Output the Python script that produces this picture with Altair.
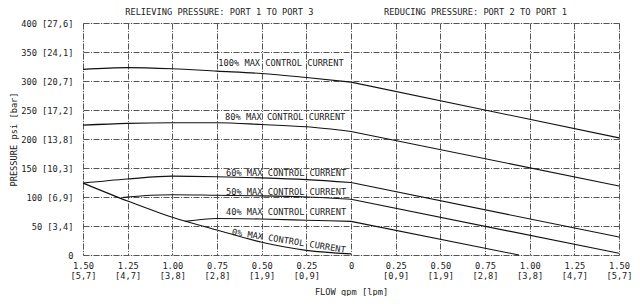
import json
import altair as alt
import pandas as pd

# ---- curve data (flow in gpm: negative = relieving side, positive = reducing side) ----
c100_left_x = [-1.5, -1.25, -1.0, -0.75, -0.5, -0.25, 0.0]
c100_left_y = [320, 323, 321, 317, 313, 306, 298]
c100_right_x = [0.0, 1.5]
c100_right_y = [298, 202]

c80_left_x = [-1.5, -1.25, -1.0, -0.75, -0.5, -0.25, 0.0]
c80_left_y = [224, 227, 228, 228, 225, 221, 213]
c80_right_x = [0.0, 1.5]
c80_right_y = [213, 119]

c60_left_x = [-1.5, -1.25, -1.0, -0.75, -0.5, -0.25, 0.0]
c60_left_y = [124, 131, 136, 135, 133, 130, 125]
c60_right_x = [0.0, 1.5]
c60_right_y = [125, 31]

c50_left_x = [-1.28, -1.25, -1.0, -0.75, -0.5, -0.25, 0.0]
c50_left_y = [99, 100, 104, 103, 102, 100, 96]
c50_right_x = [0.0, 1.5]
c50_right_y = [96, 3]

c40_left_x = [-0.93, -0.75, -0.5, -0.25, 0.0]
c40_left_y = [58, 63, 62, 60, 58]
c40_right_x = [0.0, 0.94]
c40_right_y = [58, 0]

c0_left_x = [-1.5, -1.25, -1.0, -0.75, -0.5, -0.25, 0.0]
c0_left_y = [124, 93, 65, 43, 22, 8, 2]

# ---- curve labels ----
label_text = ["100% MAX CONTROL CURRENT", "80% MAX CONTROL CURRENT", "60% MAX CONTROL CURRENT",
              "50% MAX CONTROL CURRENT", "40% MAX CONTROL CURRENT"]
label_x = [-0.743, -0.705, -0.70, -0.70, -0.70]
label_y = [331, 238, 141, 109, 75]
label0_text = ["0% MAX CONTROL CURRENT"]
label0_x = [-0.666]
label0_y = [40]

# ---- section titles ----
section_text = ["RELIEVING PRESSURE: PORT 1 TO PORT 3", "REDUCING PRESSURE: PORT 2 TO PORT 1"]
section_x = [-0.737, 0.697]
section_y = [419.5, 419.5]

# ---- tick labels ----
x_ticks = [-1.5, -1.25, -1.0, -0.75, -0.5, -0.25, 0, 0.25, 0.5, 0.75, 1.0, 1.25, 1.5]
x_top = ["1.50", "1.25", "1.00", "0.75", "0.50", "0.25", "0", "0.25", "0.50", "0.75", "1.00", "1.25", "1.50"]
x_bot = ["[5,7]", "[4,7]", "[3,8]", "[2,8]", "[1,9]", "[0,9]", "", "[0,9]", "[1,9]", "[2,8]", "[3,8]", "[4,7]", "[5,7]"]
y_ticks = [0, 50, 100, 150, 200, 250, 300, 350, 400]
y_labels = ["0", "50 [3,4]", "100 [6,9]", "150 [10,3]", "200 [13,8]", "250 [17,2]",
            "300 [20,7]", "350 [24,1]", "400 [27,6]"]

FONT = "DejaVu Sans Mono"
FS = 8.7
INK = "#222222"

rows = []
def add(name, side, xs, ys):
    for a, b in zip(xs, ys):
        rows.append({"curve": name, "side": side, "flow": a, "psi": b})

add("100", "L", c100_left_x, c100_left_y); add("100", "R", c100_right_x, c100_right_y)
add("80", "L", c80_left_x, c80_left_y); add("80", "R", c80_right_x, c80_right_y)
add("60", "L", c60_left_x, c60_left_y); add("60", "R", c60_right_x, c60_right_y)
add("50", "L", c50_left_x, c50_left_y); add("50", "R", c50_right_x, c50_right_y)
add("40", "L", c40_left_x, c40_left_y); add("40", "R", c40_right_x, c40_right_y)
add("0", "L", c0_left_x, c0_left_y)
df = pd.DataFrame(rows)

labels_df = pd.DataFrame({"text": label_text, "flow": label_x, "psi": label_y})
labels0_df = pd.DataFrame({"text": label0_text, "flow": label0_x, "psi": label0_y})
sections_df = pd.DataFrame({"text": section_text, "flow": section_x, "psi": section_y})

x_label_arr = [[t, b] if b else t for t, b in zip(x_top, x_bot)]
x_expr = json.dumps(x_label_arr) + "[round((datum.value + 1.5) * 4)]"
y_expr = json.dumps(y_labels) + "[round(datum.value / 50)]"

grid_kw = dict(grid=True, gridColor="#555555", gridDash=[6, 1.5, 1, 1.5], gridWidth=1,
               domain=False, ticks=False, labelFont=FONT, labelFontSize=FS, labelColor=INK,
               titleFont=FONT, titleFontSize=FS, titleColor=INK, titleFontWeight="normal")

x_axis = alt.Axis(values=x_ticks, labelExpr=x_expr, labelFlush=False, labelOverlap=False,
                  labelPadding=6, labelLineHeight=10.5, labelBaseline="top",
                  title="FLOW gpm [lpm]", titleY=32, titleBaseline="top", **grid_kw)
y_axis = alt.Axis(values=y_ticks, labelExpr=y_expr, labelPadding=10, labelOverlap=False,
                  labelFlush=False,
                  title="PRESSURE psi [bar]", titleX=-70, titleY=116, titleAngle=-90,
                  titleAlign="center", titleBaseline="middle", **grid_kw)

X = alt.X("flow:Q", scale=alt.Scale(domain=[-1.5, 1.5], nice=False, zero=False), axis=x_axis)
Y = alt.Y("psi:Q", scale=alt.Scale(domain=[0, 400], nice=False), axis=y_axis)

left = alt.Chart(df).transform_filter("datum.side == 'L'").mark_line(
    color="#111111", strokeWidth=1.1, interpolate="monotone"
).encode(x=X, y=Y, detail="curve:N")

right = alt.Chart(df).transform_filter("datum.side == 'R'").mark_line(
    color="#111111", strokeWidth=1.1
).encode(x=X, y=Y, detail="curve:N")

labels = alt.Chart(labels_df).mark_text(
    font=FONT, fontSize=FS, color=INK, align="left", baseline="middle"
).encode(x=X, y=Y, text="text:N")

labels0 = alt.Chart(labels0_df).mark_text(
    font=FONT, fontSize=FS, color=INK, align="left", baseline="middle", angle=9
).encode(x=X, y=Y, text="text:N")

sections = alt.Chart(sections_df).mark_text(
    font=FONT, fontSize=FS, color=INK, align="center", baseline="middle"
).encode(x=X, y=Y, text="text:N")

chart = alt.layer(left, right, labels, labels0, sections).properties(
    width=536, height=232,
    autosize=alt.AutoSizeParams(type="none"),
    padding={"left": 75, "top": 15, "right": 13, "bottom": 41},
).configure_view(stroke="#111111", strokeWidth=1).configure(background="white")

chart.save("out.html", embed_options={"renderer": "svg", "actions": False})
